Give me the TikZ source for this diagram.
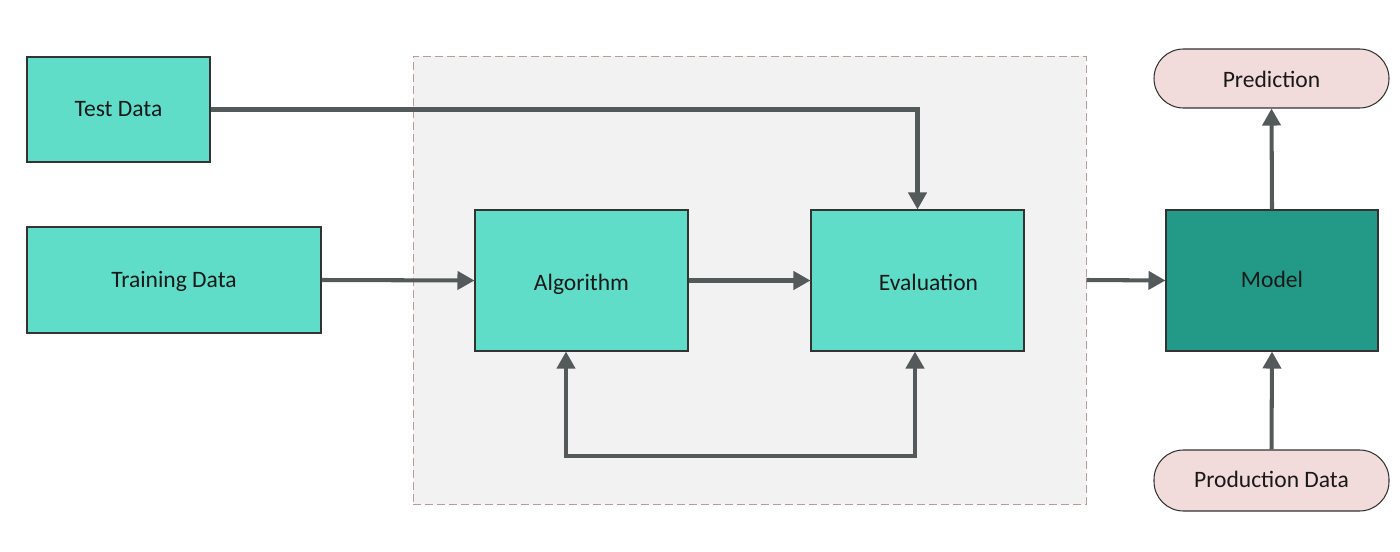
\documentclass[tikz,border=0pt]{standalone}
\usepackage{fontspec}
\setmainfont{Carlito}
\usetikzlibrary{arrows.meta}
\definecolor{tealbox}{HTML}{5FDDC8}
\definecolor{modelbox}{HTML}{239A87}
\definecolor{pinkbox}{HTML}{F2DCDB}
\definecolor{zonefill}{HTML}{F2F2F2}
\definecolor{zoneline}{HTML}{B89C9C}
\definecolor{arrowgray}{HTML}{545959}
\begin{document}
\begin{tikzpicture}[font=\fontsize{13.4}{16}\selectfont, text=black!90,
		box/.style={draw=black!80, line width=0.6pt, fill=tealbox, inner sep=0pt, text height=1.0em, text depth=0.2em},
		pill/.style={draw=black!80, line width=0.6pt, fill=pinkbox, rounded corners=0.59cm, inner sep=0pt, minimum width=4.7cm, text height=1.0em, text depth=0.2em},
		conn/.style={draw=arrowgray, line width=2.3pt, -{Triangle[length=0.34cm,width=0.36cm]}}]
	\useasboundingbox (0,0) rectangle (28,11.02);
	% dashed region round the training loop
	\node[draw=zoneline, fill=zonefill, line width=0.5pt, dash pattern=on 0.16cm off 0.08cm, minimum width=13.46cm, minimum height=8.96cm] (zone) at (14.99,5.42) {};
	% data boxes
	\node[box, minimum width=3.66cm, minimum height=2.1cm] (test) at (2.37,8.83) {Test Data};
	\node[box, minimum width=5.88cm, minimum height=2.12cm] (train) at (3.48,5.42) {Training Data};
	\node[box, minimum width=4.26cm, minimum height=2.82cm] (algo) at (11.63,5.41) {\raisebox{-0.05cm}{Algorithm}};
	\node[box, minimum width=4.26cm, minimum height=2.82cm] (eval) at (18.35,5.41) {\hspace{0.44cm}\raisebox{-0.05cm}{Evaluation}};
	\node[box, fill=modelbox, minimum width=4.24cm, minimum height=2.82cm] (model) at (25.44,5.41) {Model};
	\node[pill, minimum height=1.18cm] (pred) at (25.43,9.45) {\raisebox{-0.04cm}{Prediction}};
	\node[pill, minimum height=1.22cm] (prod) at (25.43,1.41) {Production Data};
	\coordinate (loop) at (14.8,1.9);
	% connectors
	\draw[conn] (test.east) -| (eval.north);
	\draw[conn] (train.east) -- (algo.west);
	\draw[conn] (algo.east) -- (eval.west);
	\draw[conn, {Triangle[length=0.34cm,width=0.36cm]}-{Triangle[length=0.34cm,width=0.36cm]}] ([xshift=-0.31cm]algo.south) |- (loop) -| ([xshift=-0.05cm]eval.south);
	\draw[conn] (zone.east) -- (model.west);
	\draw[conn] (model.north) -- (pred.south);
	\draw[conn] (prod.north) -- (model.south);
\end{tikzpicture}
\end{document}
